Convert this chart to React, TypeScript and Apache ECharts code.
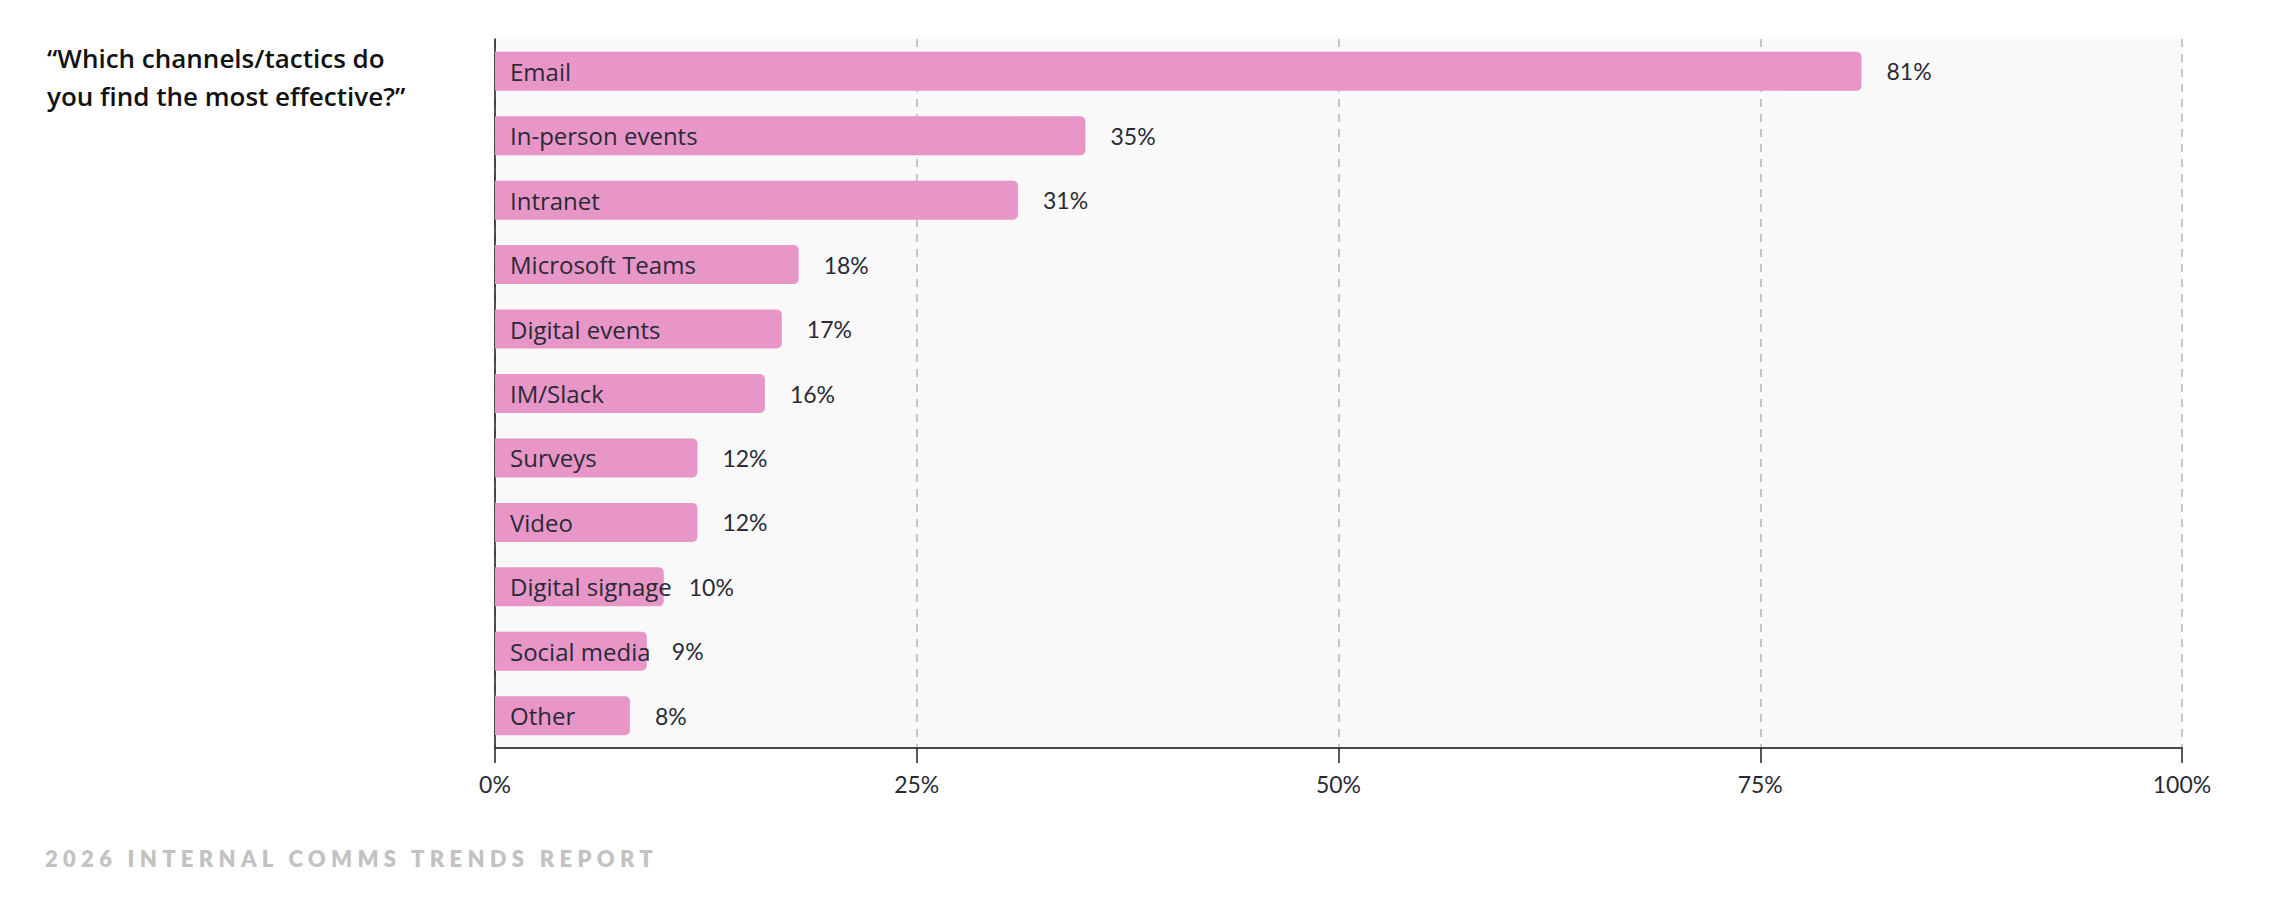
import React, { useEffect, useRef } from "react";
import * as echarts from "echarts";

const categories = [
  "Email",
  "In-person events",
  "Intranet",
  "Microsoft Teams",
  "Digital events",
  "IM/Slack",
  "Surveys",
  "Video",
  "Digital signage",
  "Social media",
  "Other",
];
const values = [81, 35, 31, 18, 17, 16, 12, 12, 10, 9, 8];
const tickValues = [0, 25, 50, 75, 100];
const titleText = "\u201cWhich channels/tactics do\nyou find the most effective?\u201d";
const footerText = "2026 INTERNAL COMMS TRENDS REPORT";

const FONT = "Lato";
const LABEL_FONT = "Open Sans";
const TEXT_COLOR = "#2a2a35";

export default function App() {
  const ref = useRef<HTMLDivElement>(null);
  useEffect(() => {
    if (!ref.current) return;
    const chart = echarts.init(ref.current, null, { renderer: "svg" });
    const option = {
      animation: false,
      backgroundColor: "#ffffff",
      textStyle: { fontFamily: FONT },
      title: [
        {
          text: titleText,
          left: 42,
          top: 34,
          textStyle: {
            fontFamily: LABEL_FONT,
            fontSize: 26,
            fontWeight: 600,
            lineHeight: 38,
            color: "#111111",
          },
        },
      ],
      graphic: [
        {
          type: "text",
          left: 45,
          top: 847,
          style: {
            text: footerText,
            fontFamily: FONT,
            fontSize: 22,
            fontWeight: 800,
            fill: "#c2c2c2",
          },
        },
      ],
      grid: {
        left: 495,
        right: 92,
        top: 39,
        bottom: 162,
        show: true,
        backgroundColor: "#f9f9f9",
        borderWidth: 0,
        containLabel: false,
      },
      xAxis: {
        type: "value",
        min: 0,
        max: 100,
        interval: 25,
        axisLine: { show: true, lineStyle: { color: "#4a4a4a", width: 2 } },
        axisTick: { show: true, length: 15, lineStyle: { color: "#222", width: 1.5 } },
        axisLabel: {
          formatter: (v: number) => (tickValues.includes(v) ? v + "%" : ""),
          fontFamily: FONT,
          fontSize: 23,
          color: TEXT_COLOR,
          margin: 24,
        },
        splitLine: {
          show: true,
          lineStyle: { color: "#c6c6c6", width: 2, type: [8, 7] },
        },
      },
      yAxis: {
        type: "category",
        data: categories,
        inverse: true,
        axisLine: { show: true, lineStyle: { color: "#1a1a1a", width: 1.5 } },
        axisTick: { show: false },
        axisLabel: { show: false },
        splitLine: { show: false },
      },
      series: [
        {
          type: "bar",
          data: values,
          barWidth: 39,
          itemStyle: { color: "#e896c8", borderRadius: [0, 5, 5, 0] },
          label: {
            show: true,
            position: "right",
            distance: 25,
            formatter: (p: any) => p.value + "%",
            fontFamily: FONT,
            fontSize: 23,
            color: TEXT_COLOR,
          },
          z: 2,
        },
        {
          type: "bar",
          data: values,
          barWidth: 39,
          barGap: "-100%",
          itemStyle: { color: "rgba(0,0,0,0)" },
          label: {
            show: true,
            position: "insideLeft",
            distance: 15,
            formatter: (p: any) => p.name,
            fontFamily: LABEL_FONT,
            fontSize: 24,
            color: TEXT_COLOR,
          },
          z: 3,
        },
      ],
    };
    chart.setOption(option as any);
    const applySpacing = () => {
      const texts = ref.current?.querySelectorAll("text") || [];
      texts.forEach((t) => {
        if ((t.textContent || "").indexOf("2026") === 0) {
          t.setAttribute("letter-spacing", "5.3");
        }
      });
    };
    applySpacing();
    chart.on("finished", applySpacing);
    return () => chart.dispose();
  }, []);
  return (
    <div
      ref={ref}
      style={{ position: "absolute", left: 0, top: 0, width: 2274, height: 910 }}
    />
  );
}
